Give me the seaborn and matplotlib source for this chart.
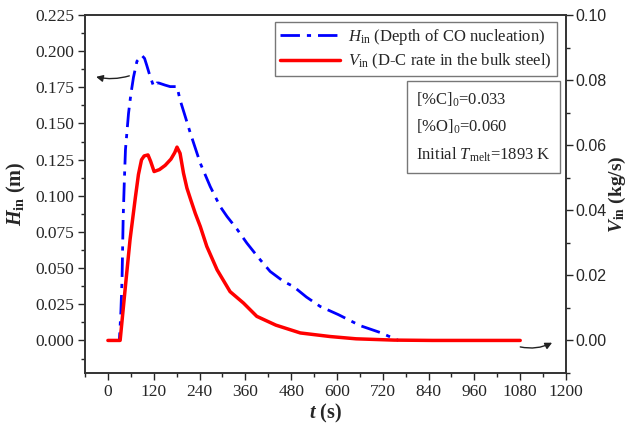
import numpy as np
import pandas as pd
import matplotlib
matplotlib.use("Agg")
import matplotlib.pyplot as plt
import seaborn as sns
from matplotlib.ticker import MultipleLocator, FormatStrFormatter

# ---------------- data ----------------
t_H = [0, 30, 34, 37, 40, 43, 46, 54, 60, 67, 76, 89, 96, 102, 110, 120, 128, 133,
       150, 163, 181, 189, 200, 216, 242, 268, 294, 312, 338, 364, 395, 425, 460,
       486, 520, 556, 604, 661, 713, 761]
H_in = [0, 0, 0.02, 0.042, 0.085, 0.110, 0.132, 0.157, 0.170, 0.182, 0.193, 0.197,
        0.195, 0.190, 0.183, 0.1755, 0.178, 0.178, 0.1765, 0.1755, 0.1755, 0.1663,
        0.157, 0.1433, 0.1225, 0.1064, 0.0926, 0.0857, 0.077, 0.0673, 0.057, 0.0477,
        0.0408, 0.0373, 0.030, 0.0235, 0.0178, 0.0102, 0.0055, 0.0]

t_V = [0, 32, 45, 58, 72, 80, 88, 95, 105, 112, 121, 135, 150, 165, 175, 181, 189,
       198, 207, 217, 229, 242, 259, 286, 320, 355, 390, 440, 504, 582, 650, 750,
       850, 1080]
V_in = [0, 0, 0.0156, 0.031, 0.0440, 0.0510, 0.0555, 0.0567, 0.0570, 0.0550, 0.0519,
        0.0525, 0.0538, 0.0557, 0.0577, 0.0594, 0.0575, 0.0514, 0.0468, 0.0432,
        0.0390, 0.0350, 0.0289, 0.0217, 0.0150, 0.0115, 0.0074, 0.0047, 0.0023,
        0.0012, 0.0005, 0.0001, 0.0, 0.0]

x_ticks = [0, 120, 240, 360, 480, 600, 720, 840, 960, 1080, 1200]

leg_H = r"$\mathit{H}_{\mathrm{in}}$ (Depth of CO nucleation)"
leg_V = r"$\mathit{V}_{\mathrm{in}}$ (D-C rate in the bulk steel)"
info_lines = [r"[%C]$_{0}$=0.033", r"[%O]$_{0}$=0.060", r"Initial $\mathit{T}_{\mathrm{melt}}$=1893 K"]

dfH = pd.DataFrame({"t": t_H, "H": H_in})
dfV = pd.DataFrame({"t": t_V, "V": V_in})

# ---------------- style ----------------
sns.set_style("ticks")
plt.rcParams["font.family"] = ["Liberation Serif", "DejaVu Serif"]
plt.rcParams["mathtext.fontset"] = "custom"
plt.rcParams["mathtext.rm"] = "Liberation Serif"
plt.rcParams["mathtext.it"] = "Liberation Serif:italic"
plt.rcParams["mathtext.bf"] = "Liberation Serif:bold"
plt.rcParams["mathtext.bfit"] = "Liberation Serif:italic:bold"

fig = plt.figure(figsize=(6.32, 4.25), dpi=100)
ax = fig.add_axes([0.1345, 0.1224, 0.8956 - 0.1345, 0.9647 - 0.1224])
ax2 = ax.twinx()

sns.lineplot(data=dfH, x="t", y="H", ax=ax, color="#0000ff", lw=2.0,
             linestyle=(0, (7, 2.5, 1.5, 2.5)), label=leg_H, legend=False)
sns.lineplot(data=dfV, x="t", y="V", ax=ax2, color="#ff0000", lw=2.5,
             label=leg_V, legend=False)

ax.set_xlim(-60, 1200)
ax.set_ylim(-0.0225, 0.225)
ax2.set_ylim(-0.01, 0.10)

ax.set_xticks(x_ticks)
ax.xaxis.set_minor_locator(MultipleLocator(60))
ax.yaxis.set_major_locator(MultipleLocator(0.025))
ax.yaxis.set_minor_locator(MultipleLocator(0.0125))
ax.yaxis.set_major_formatter(FormatStrFormatter("%.3f"))
ax2.yaxis.set_major_locator(MultipleLocator(0.02))
ax2.yaxis.set_minor_locator(MultipleLocator(0.01))
ax2.yaxis.set_major_formatter(FormatStrFormatter("%.2f"))

for a in (ax, ax2):
    a.tick_params(which="major", direction="out", length=5, width=1, labelsize=12.5, pad=3)
    a.tick_params(which="minor", direction="out", length=3, width=1)
    for s in a.spines.values():
        s.set_visible(True)
        s.set_linewidth(1.2)
        s.set_color("#333333")
ax.tick_params(top=False, right=False, which="both")
ax2.tick_params(axis="y", labelsize=11.5, pad=2)
for lbl in ax2.get_yticklabels():
    lbl.set_fontfamily("Liberation Sans")

ax.set_xlabel(r"$\mathbfit{t}$ (s)", fontsize=14.5, fontweight="bold", labelpad=1)
ax.set_ylabel(r"$\mathbfit{H}_{\mathbf{in}}$ (m)", fontsize=14.5, fontweight="bold", labelpad=5)
ax2.set_ylabel(r"$\mathbfit{V}_{\mathbf{in}}$ (kg/s)", fontsize=14, fontweight="bold",
               rotation=90, labelpad=0)

# legend
h1, l1 = ax.get_legend_handles_labels()
h2, l2 = ax2.get_legend_handles_labels()
leg = ax.legend(h1 + h2, l1 + l2, loc="upper right", bbox_to_anchor=(0.981, 0.981),
                borderaxespad=0, fancybox=False, framealpha=1, edgecolor="#777777",
                fontsize=12, handlelength=3.6, handletextpad=0.5, borderpad=0.3,
                labelspacing=0.3)
leg.get_frame().set_linewidth(1.0)
leg.set_zorder(10)

# info box
txt = ax.text(0.965, 0.79, "\n".join(info_lines), transform=ax.transAxes, ha="left",
              va="top", fontsize=12, linespacing=1.65,
              bbox=dict(boxstyle="square,pad=0.55", fc="white", ec="#777777", lw=1.0))
fig.canvas.draw()
bb = txt.get_window_extent(renderer=fig.canvas.get_renderer())
w_ax = bb.width / ax.bbox.width
txt.set_x(0.981 - 0.012 - w_ax)

# arrows
ax.annotate("", xy=(-38, 0.1827), xytext=(63, 0.1835),
            arrowprops=dict(arrowstyle="-|>", color="#222222", lw=1.0,
                            connectionstyle="arc3,rad=-0.15", mutation_scale=10))
ax2.annotate("", xy=(1170, -0.0003), xytext=(1073, -0.0018),
             arrowprops=dict(arrowstyle="-|>", color="#222222", lw=1.0,
                             connectionstyle="arc3,rad=0.2", mutation_scale=10))

fig.savefig("out.png", dpi=100)
